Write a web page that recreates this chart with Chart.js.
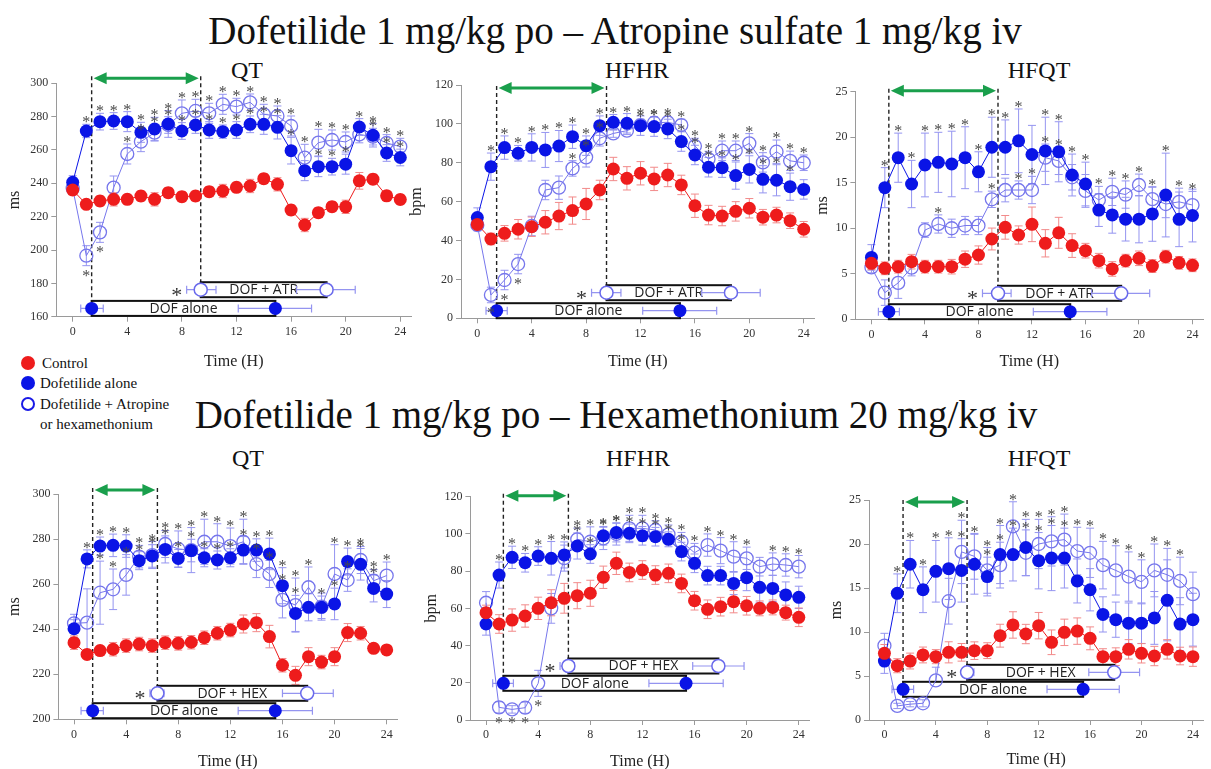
<!DOCTYPE html>
<html>
<head>
<meta charset="utf-8">
<script src="https://cdn.jsdelivr.net/npm/chart.js@4.4.1/dist/chart.umd.min.js"></script>
<style>
  body { margin: 0; width: 1211px; height: 769px; overflow: hidden; background: #fff; position: relative; font-family: "Liberation Serif", serif; color: #111; }
  canvas.panel { position: absolute; left: 0; top: 0; }
  .main-title { position: absolute; transform: translate(-50%, -50%); font-size: 39px; white-space: nowrap; }
  .panel-title { position: absolute; transform: translate(-50%, -50%); font-size: 24px; white-space: nowrap; }
  .legend { position: absolute; left: 0; top: 0; font-size: 15px; }
  .legend .item { position: absolute; white-space: nowrap; transform: translateY(-50%); }
  .legend .dot { position: absolute; width: 14px; height: 14px; border-radius: 50%; transform: translate(-50%, -50%); box-sizing: border-box; }
</style>
</head>
<body>

<div class="main-title" style="left:615px;top:30px;">Dofetilide 1 mg/kg po – Atropine sulfate 1 mg/kg iv</div>
<div class="main-title" style="left:616px;top:414px;">Dofetilide 1 mg/kg po – Hexamethonium 20 mg/kg iv</div>

<div class="panel-title" style="left:247px;top:70px;">QT</div>
<div class="panel-title" style="left:637px;top:70px;">HFHR</div>
<div class="panel-title" style="left:1039px;top:70px;">HFQT</div>
<div class="panel-title" style="left:248px;top:458px;">QT</div>
<div class="panel-title" style="left:638px;top:458px;">HFHR</div>
<div class="panel-title" style="left:1039px;top:458px;">HFQT</div>

<div class="legend">
  <div class="dot" style="left:28px;top:363px;background:#ee1c1c;"></div>
  <div class="item" style="left:42px;top:363px;">Control</div>
  <div class="dot" style="left:28px;top:383px;background:#0a14e6;"></div>
  <div class="item" style="left:40px;top:383px;">Dofetilide alone</div>
  <div class="dot" style="left:28px;top:404px;border:2px solid #1a1ae6;background:#fff;"></div>
  <div class="item" style="left:40px;top:404px;">Dofetilide + Atropine</div>
  <div class="item" style="left:40px;top:424px;">or hexamethonium</div>
</div>

<canvas class="panel" id="c1" width="1211" height="800"></canvas>
<canvas class="panel" id="c2" width="1211" height="800"></canvas>
<canvas class="panel" id="c3" width="1211" height="800"></canvas>
<canvas class="panel" id="c4" width="1211" height="800"></canvas>
<canvas class="panel" id="c5" width="1211" height="800"></canvas>
<canvas class="panel" id="c6" width="1211" height="800"></canvas>

<script>
// ---------- data ----------
const hours = [0,1,2,3,4,5,6,7,8,9,10,11,12,13,14,15,16,17,18,19,20,21,22,23,24];
const xTicks = [0,4,8,12,16,20,24];
const qtAtrTicks = [160,180,200,220,240,260,280,300];
const qtHexTicks = [200,220,240,260,280,300];
const hrTicks = [0,20,40,60,80,100,120];
const hfqtTicks = [0,5,10,15,20,25];

// atropine - QT
const atrQtControl = [236,227.4,229.4,230.4,230.4,232.4,230.4,234.4,232,232.4,235,235.4,237.6,238.4,242.8,239.4,224,215,222.4,226,225.9,241.5,242.5,232.5,230.3];
const atrQtControlErr = [3,2,3,4,3,3,4,3,3,3,3,4,3,4,3,4,3,4,3,3,4,5,3,3,3];
const atrQtDof = [240.6,271.4,277,277.4,277,270.6,272.6,275.6,271.4,275,272,271,272,275.4,275.4,273.6,259.6,247.6,250,250,251.5,273.8,268.8,258.2,255.5];
const atrQtDofErr = [4,4,5,5,6,6,7,8,5,5,5,4,5,5,6,7,8,6,6,5,6,5,7,5,5];
const atrQtCombo = [237,196.6,210.6,237.4,257.6,265,270.4,275,282,283.4,282,287.4,286,288.6,281.4,280.4,274.4,255.4,264.4,266,264.8,269.3,268,264.2,262];
const atrQtComboErr = [3,6,6,7,6,6,5,5,8,7,6,6,5,5,6,6,6,8,8,6,6,5,5,5,5];
const atrQtDofStars = [0,1,1,1,1,1,1,1,1,1,1,1,1,1,1,1,1,0,1,1,1,1,1,1,1];
const atrQtComboStars = [0,-1,-1,0,1,1,1,1,1,1,1,1,1,1,1,1,1,1,1,1,1,0,1,1,1];
const atrQtAloneOn = [1.39,0.59,2.24];
const atrQtAloneOff = [14.85,12.13,17.5];
const atrQtComboOn = [9.38,8.35,10.5];
const atrQtComboOff = [18.6,16.4,20.7];

// atropine - HFHR
const atrHrControl = [48.3,40.8,43.7,45.8,47.1,49.4,52.6,55.4,58.8,66,76.8,72,74.6,71.7,73.7,68.6,57.9,53.1,52.6,55,56.6,52,53.1,50.2,45.8];
const atrHrControlErr = [3,3,4,5,5,6,7,7,8,5,6,6,6,6,6,5,6,5,5,5,5,4,4,4,4];
const atrHrDof = [51.8,78,87.8,84.9,87.9,86.6,88.6,93.4,88.8,99.1,100.8,100.3,99.1,98.6,97.4,90.9,84,77.7,77.5,73.4,76.6,71.5,71,67.7,66.3];
const atrHrDofErr = [5,7,6,4,7,9,8,6,5,5,4,5,5,5,5,5,5,5,5,7,7,7,8,7,5];
const atrHrCombo = [48,12,19.7,27.9,47.5,66,67.2,77.1,82.8,92.6,95.1,96.5,99.4,100.6,100.8,99.4,88.6,81.9,86.2,86.2,90,80.2,85.7,81,80];
const atrHrComboErr = [3,4,5,5,5,5,6,4,5,4,2,2,3,3,3,3,4,4,5,5,5,5,6,5,4];
const atrHrDofStars = [0,1,1,1,1,1,1,1,1,1,1,1,1,1,1,1,1,1,1,1,1,1,1,1,0];
const atrHrComboStars = [0,-1,-1,-1,0,0,0,1,1,1,0,0,1,1,1,1,1,1,1,1,1,1,1,1,1];
const atrHrAloneOn = [1.42,0.64,2.2];
const atrHrAloneOff = [14.9,12.16,17.6];
const atrHrComboOn = [9.5,8.4,10.56];
const atrHrComboOff = [18.65,16.5,20.8];

// atropine - HFQT
const atrHfqtControl = [6.15,5.6,5.78,6.33,5.78,5.78,5.78,6.6,7.06,8.82,10.1,9.26,10.43,8.35,9.5,8.1,7.54,6.44,5.53,6.44,6.7,5.85,6.88,6.2,5.93];
const atrHfqtControlErr = [0.7,0.7,0.7,0.8,0.7,0.7,0.8,0.9,1,1.2,1.3,1,1.9,1.5,1.7,1.3,0.8,0.8,0.8,0.7,0.8,0.7,0.7,0.7,0.7];
const atrHfqtDof = [6.8,14.46,17.75,14.86,16.95,17.24,17.06,17.75,16.2,18.9,18.9,19.6,18.1,18.5,18.4,15.85,14.86,12,11.46,11,11,11.57,13.65,10.98,11.4];
const atrHfqtDofErr = [1.4,2.2,2.7,2.6,3.5,3.3,3.6,3.4,2.2,3.3,3,3.5,3.2,3.7,3.3,2.3,2.4,1.8,2,2.4,2.6,3,4.6,3,2.9];
const atrHfqtCombo = [5.7,2.93,4,5.67,9.8,10.47,10,10.3,10.3,13.18,14.2,14.2,14.2,17.75,17.4,15.6,14.1,13.1,14,13.7,14.75,13.2,12.66,12.9,12.55];
const atrHfqtComboErr = [0.6,1.4,1.7,0.9,0.8,1,1,1,1,0.9,1.3,1,1.5,1.5,1.5,1.4,1.8,1.5,1.5,1.5,1.2,1.3,1.5,1.5,1.5];
const atrHfqtDofStars = [0,1,1,1,1,1,1,1,1,1,1,1,0,1,1,1,1,0,0,0,0,0,1,0,0];
const atrHfqtComboStars = [0,0,0,0,0,1,0,0,0,1,0,1,1,1,1,0,0,1,1,1,1,1,0,1,1];
const atrHfqtAloneOn = [1.3,0.52,2.09];
const atrHfqtAloneOff = [14.86,12.1,17.6];
const atrHfqtComboOn = [9.46,8.3,10.44];
const atrHfqtComboOff = [18.67,16.46,20.8];

// hexamethonium - QT
const hexQtControl = [234,228.8,230.5,231.1,232.7,233.4,232.7,234,233.7,234.2,236.2,238.2,239.6,242.3,242.9,236.7,224,219.5,227.8,225.4,227.8,238.5,238.2,231.5,230.8];
const hexQtControlErr = [3,2,2,3,3,3,3,3,3,3,3,3,3,4,4,5,3,4,4,3,4,4,3,2,2];
const hexQtDof = [240.2,271.2,276.9,277.2,276.9,270.4,272.5,275.4,271.4,274.9,271.7,270.7,271.7,275.1,275.1,273.4,259.3,247,249.7,249.7,251.2,270,268.8,258.1,255.6];
const hexQtDofErr = [4,4,4,5,5,4,5,6,4,5,4,4,4,6,5,7,8,8,6,5,7,6,7,6,6];
const hexQtCombo = [242.6,242.9,256.2,257.7,264.1,272.2,272.9,277.8,275.6,275.1,278.8,278.8,276.9,278.8,268.9,264.5,253,250.7,258.6,250,264.5,261.8,270.7,261.5,263.8];
const hexQtComboErr = [4,15,14,9,9,5,6,6,8,10,10,8,8,10,6,6,8,12,9,6,13,5,6,5,6];
const hexQtDofStars = [0,1,1,1,1,1,1,1,1,1,1,1,1,1,1,1,1,1,0,1,1,1,1,1,0];
const hexQtComboStars = [0,0,1,1,1,1,1,1,1,1,1,1,1,1,1,1,1,1,1,0,1,1,1,1,1];
const hexQtAloneOn = [1.43,0.54,2.25];
const hexQtAloneOff = [15.45,12.6,18.3];
const hexQtComboOn = [6.4,5.83,6.9];
const hexQtComboOff = [17.9,16,19.9];

// hexamethonium - HFHR
const hexHrControl = [57.7,51.6,53.7,55.9,60,63,65.4,66.8,68.1,76.7,84.2,79.3,80.6,77.9,78.8,73.4,64.1,59.5,60.9,63.6,61.4,60,60.5,57.7,55.2];
const hexHrControlErr = [4,5,6,6,6,7,8,7,7,6,6,5,5,5,5,5,5,5,5,6,5,4,4,4,5];
const hexHrDof = [51.6,77.9,87.4,84.5,88.1,86.9,88.7,93.5,89.2,99,100.7,100.3,99,98.5,97.1,90.5,84.2,77.6,77.6,73.4,76.5,71.3,70.7,67.2,65.9];
const hexHrDofErr = [6,7,6,5,5,9,7,7,5,5,5,5,5,5,4,5,5,5,5,6,7,8,7,7,6];
const hexHrCombo = [63,6.8,5.7,6.6,19.7,60,87,97.1,95.8,97.6,100,103,103,102.1,99.8,95.8,89.9,94,91,87.8,86.9,82.4,83.8,83.3,82.4];
const hexHrComboErr = [6,3,2,3,7,8,7,6,8,6,6,7,7,5,5,5,5,6,7,8,6,5,6,6,6];
const hexHrDofStars = [0,1,1,1,1,1,1,1,1,1,1,1,1,1,1,1,0,0,0,0,0,0,0,0,0];
const hexHrComboStars = [0,-1,-1,-1,-1,0,0,1,1,1,1,1,1,1,1,1,1,1,1,1,1,0,1,1,1];
const hexHrAloneOn = [1.33,0.51,2.1];
const hexHrAloneOff = [15.35,12.5,18.2];
const hexHrComboOn = [6.32,5.68,6.78];
const hexHrComboOff = [17.83,15.86,19.8];

// hexamethonium - HFQT
const hexHfqtControl = [7.58,6.17,6.7,7.39,7.2,7.69,7.69,7.88,7.88,9.58,10.8,9.77,10.72,8.83,9.96,10.1,9.28,7.2,7.2,8.03,7.58,7.27,8.03,7.27,7.2];
const hexHfqtControlErr = [1,0.8,0.9,0.9,0.8,1.2,1,1,0.9,1.3,1.5,1.1,1.5,1.4,1.5,1.5,1.3,0.9,1,1.1,1.1,1.1,1.1,1,1.1];
const hexHfqtDof = [6.7,14.4,17.7,14.8,16.9,17.2,17,17.7,16.3,18.8,18.8,19.6,18.1,18.4,18.4,15.8,14.8,12,11.4,11,11,11.6,13.6,10.9,11.4];
const hexHfqtDofErr = [1.4,2.2,2.7,2.6,3.5,3.5,3.6,3.4,2.2,3.3,3,3.2,3.2,3.7,3.4,2.5,2.4,2,2,2.3,2.3,3,4.6,3,3];
const hexHfqtCombo = [8.45,1.6,1.8,1.9,4.5,13.5,19.1,18.6,17,17.6,22,19,20,20.3,20.5,19.2,19,17.6,17,16.3,15.7,17,16.5,15.8,14.3];
const hexHfqtComboErr = [1.4,0.3,0.3,0.4,1.5,2.6,3.6,2.6,2.6,2.6,2.8,2.6,2.8,2.8,2.9,2.7,2.8,2.7,2.8,2.8,2.5,3,3,2.7,2.5];
const hexHfqtDofStars = [0,1,1,1,1,1,1,1,1,1,1,1,1,1,1,0,0,0,0,0,0,0,0,0,0];
const hexHfqtComboStars = [0,0,0,0,0,0,1,0,1,1,1,1,1,1,1,1,1,1,1,1,1,1,1,1,0];
const hexHfqtAloneOn = [1.45,0.59,2.27];
const hexHfqtAloneOff = [15.46,12.65,18.27];
const hexHfqtComboOn = [6.43,6.02,6.96];
const hexHfqtComboOff = [17.88,15.9,19.85];

// ---------- layout (page pixels) ----------
const W = 1211, H = 800;
const serif = '"Liberation Serif", "Times New Roman", serif';
const RED = '#ee1c1c', BLUE = '#0a14e6', LAV = '#7676ec';
const RED_ERR = '#f28a8a', BLUE_ERR = '#9494f0';

const panels = [
  { id: 'c1', area: [56.3, 83.3, 411.2, 316.7], yLabelX: 15, xLabelY: 362, arrowDy: -5, rows: [8.3, 27],
    yTitle: 'ms', yMin: 160, yMax: 300, yTicks: qtAtrTicks, comboLabel: 'DOF + ATR',
    control: atrQtControl, controlErr: atrQtControlErr, dof: atrQtDof, dofErr: atrQtDofErr,
    combo: atrQtCombo, comboErr: atrQtComboErr, dofStars: atrQtDofStars, comboStars: atrQtComboStars,
    aloneOn: atrQtAloneOn, aloneOff: atrQtAloneOff, comboOn: atrQtComboOn, comboOff: atrQtComboOff },
  { id: 'c2', area: [461, 85, 814.6, 318.3], yLabelX: 417, xLabelY: 361.7, arrowDy: 3, rows: [7.6, 25.6],
    yTitle: 'bpm', yMin: 0, yMax: 120, yTicks: hrTicks, comboLabel: 'DOF + ATR',
    control: atrHrControl, controlErr: atrHrControlErr, dof: atrHrDof, dofErr: atrHrDofErr,
    combo: atrHrCombo, comboErr: atrHrComboErr, dofStars: atrHrDofStars, comboStars: atrHrComboStars,
    aloneOn: atrHrAloneOn, aloneOff: atrHrAloneOff, comboOn: atrHrComboOn, comboOff: atrHrComboOff },
  { id: 'c3', area: [855.4, 91.7, 1208.2, 319.3], yLabelX: 823, xLabelY: 361.7, arrowDy: -1, rows: [7.6, 26],
    yTitle: 'ms', yMin: 0, yMax: 25, yTicks: hfqtTicks, comboLabel: 'DOF + ATR',
    control: atrHfqtControl, controlErr: atrHfqtControlErr, dof: atrHfqtDof, dofErr: atrHfqtDofErr,
    combo: atrHfqtCombo, comboErr: atrHfqtComboErr, dofStars: atrHfqtDofStars, comboStars: atrHfqtComboStars,
    aloneOn: atrHfqtAloneOn, aloneOff: atrHfqtAloneOff, comboOn: atrHfqtComboOn, comboOff: atrHfqtComboOff },
  { id: 'c4', area: [58.4, 494, 397.1, 719.3], yLabelX: 15, xLabelY: 761.7, arrowDy: -4, rows: [8.6, 26],
    yTitle: 'ms', yMin: 200, yMax: 300, yTicks: qtHexTicks, comboLabel: 'DOF + HEX',
    control: hexQtControl, controlErr: hexQtControlErr, dof: hexQtDof, dofErr: hexQtDofErr,
    combo: hexQtCombo, comboErr: hexQtComboErr, dofStars: hexQtDofStars, comboStars: hexQtComboStars,
    aloneOn: hexQtAloneOn, aloneOff: hexQtAloneOff, comboOn: hexQtComboOn, comboOff: hexQtComboOff },
  { id: 'c5', area: [470.4, 496.7, 809.2, 720], yLabelX: 431.7, xLabelY: 761.7, arrowDy: -1, rows: [36.7, 54],
    yTitle: 'bpm', yMin: 0, yMax: 120, yTicks: hrTicks, comboLabel: 'DOF + HEX',
    control: hexHrControl, controlErr: hexHrControlErr, dof: hexHrDof, dofErr: hexHrDofErr,
    combo: hexHrCombo, comboErr: hexHrComboErr, dofStars: hexHrDofStars, comboStars: hexHrComboStars,
    aloneOn: hexHrAloneOn, aloneOff: hexHrAloneOff, comboOn: hexHrComboOn, comboOff: hexHrComboOff },
  { id: 'c6', area: [869, 500, 1208.6, 720], yLabelX: 837, xLabelY: 760, arrowDy: 2, rows: [30.7, 47.7],
    yTitle: 'ms', yMin: 0, yMax: 25, yTicks: hfqtTicks, comboLabel: 'DOF + HEX',
    control: hexHfqtControl, controlErr: hexHfqtControlErr, dof: hexHfqtDof, dofErr: hexHfqtDofErr,
    combo: hexHfqtCombo, comboErr: hexHfqtComboErr, dofStars: hexHfqtDofStars, comboStars: hexHfqtComboStars,
    aloneOn: hexHfqtAloneOn, aloneOff: hexHfqtAloneOff, comboOn: hexHfqtComboOn, comboOff: hexHfqtComboOff }
];

function pts(vals) {
  return hours.map((h, i) => ({ x: h, y: vals[i] }));
}

function circle(ctx, x, y, r, fill, stroke) {
  ctx.beginPath();
  ctx.arc(x, y, r, 0, Math.PI * 2);
  if (fill) { ctx.fillStyle = fill; ctx.fill(); }
  if (stroke) { ctx.strokeStyle = stroke; ctx.lineWidth = 1.5; ctx.stroke(); }
}

// error bars, dashed lines, onset/offset boxes, stars and the green arrow
function makeDeco(p) {
  return {
    id: 'deco',
    beforeDatasetsDraw(chart) {
      const { ctx, chartArea: a, scales } = chart;
      const X = v => scales.x.getPixelForValue(v);
      const Y = v => scales.y.getPixelForValue(v);
      ctx.save();

      // vertical error bars
      const series = [
        [p.combo, p.comboErr, BLUE_ERR],
        [p.dof, p.dofErr, BLUE_ERR],
        [p.control, p.controlErr, RED_ERR]
      ];
      series.forEach(([vals, err, col]) => {
        ctx.strokeStyle = col;
        ctx.lineWidth = 1;
        vals.forEach((v, i) => {
          const px = X(hours[i]), y1 = Y(v + err[i]), y2 = Y(v - err[i]);
          ctx.beginPath();
          ctx.moveTo(px, y1); ctx.lineTo(px, y2);
          ctx.moveTo(px - 4, y1); ctx.lineTo(px + 4, y1);
          ctx.moveTo(px - 4, y2); ctx.lineTo(px + 4, y2);
          ctx.stroke();
        });
      });

      const rowA = a.bottom - p.rows[0];
      const rowC = a.bottom - p.rows[1];
      const topY = a.top + p.arrowDy - 2;

      // dashed lines at the onsets
      ctx.setLineDash([4, 3]);
      ctx.strokeStyle = '#222';
      ctx.lineWidth = 1.4;
      [[p.aloneOn[0], rowA], [p.comboOn[0], rowC]].forEach(([t, ry]) => {
        ctx.beginPath();
        ctx.moveTo(X(t), topY);
        ctx.lineTo(X(t), ry - 7);
        ctx.stroke();
      });
      ctx.setLineDash([]);

      // boxes with onset / offset markers
      const rows = [
        [p.aloneOn, p.aloneOff, rowA, 'DOF alone', BLUE, null],
        [p.comboOn, p.comboOff, rowC, p.comboLabel, '#fff', '#6a6aec']
      ];
      rows.forEach(([on, off, ry, label, fill, stroke]) => {
        const x1 = X(on[0]), x2 = X(off[0]);
        ctx.fillStyle = '#fff';
        ctx.fillRect(x1, ry - 7.5, x2 - x1, 15);
        ctx.strokeStyle = '#111';
        ctx.lineWidth = 2;
        ctx.strokeRect(x1, ry - 7.5, x2 - x1, 15);
        ctx.fillStyle = '#222';
        ctx.font = '14px "Open Sans", "DejaVu Sans", sans-serif';
        ctx.textAlign = 'center';
        ctx.textBaseline = 'middle';
        ctx.fillText(label, (x1 + x2) / 2, ry + 0.5);
        [on, off].forEach(m => {
          const lo = X(m[1]), hi = X(m[2]);
          ctx.strokeStyle = BLUE_ERR;
          ctx.lineWidth = 1.2;
          ctx.beginPath();
          ctx.moveTo(lo, ry); ctx.lineTo(hi, ry);
          ctx.moveTo(lo, ry - 4); ctx.lineTo(lo, ry + 4);
          ctx.moveTo(hi, ry - 4); ctx.lineTo(hi, ry + 4);
          ctx.stroke();
          circle(ctx, X(m[0]), ry, 6.5, fill, stroke);
        });
      });

      // significance star left of the combination onset
      ctx.fillStyle = '#333';
      ctx.font = '22px ' + serif;
      ctx.textAlign = 'center';
      ctx.textBaseline = 'alphabetic';
      ctx.fillText('*', X(p.comboOn[1]) - 10, rowC + 12);
      ctx.restore();
    },
    afterDatasetsDraw(chart) {
      const { ctx, chartArea: a, scales } = chart;
      const X = v => scales.x.getPixelForValue(v);
      const Y = v => scales.y.getPixelForValue(v);
      ctx.save();

      // asterisks
      ctx.fillStyle = '#4a4a4a';
      ctx.font = '16px ' + serif;
      ctx.textAlign = 'center';
      ctx.textBaseline = 'alphabetic';
      [[p.dof, p.dofErr, p.dofStars], [p.combo, p.comboErr, p.comboStars]].forEach(([vals, err, stars]) => {
        stars.forEach((s, i) => {
          if (!s) return;
          const px = X(hours[i]);
          if (s > 0) ctx.fillText('*', px, Y(vals[i] + err[i]) + 3);
          else ctx.fillText('*', px, Y(vals[i] - err[i]) + 15);
        });
      });

      // green double arrow between the two onsets
      const ay = a.top + p.arrowDy;
      const x1 = X(p.aloneOn[0]) + 2, x2 = X(p.comboOn[0]) - 2;
      ctx.strokeStyle = '#1a9f4c';
      ctx.fillStyle = '#1a9f4c';
      ctx.lineWidth = 3;
      ctx.beginPath();
      ctx.moveTo(x1 + 10, ay); ctx.lineTo(x2 - 10, ay);
      ctx.stroke();
      ctx.beginPath();
      ctx.moveTo(x1, ay); ctx.lineTo(x1 + 13, ay - 6); ctx.lineTo(x1 + 13, ay + 6); ctx.closePath();
      ctx.moveTo(x2, ay); ctx.lineTo(x2 - 13, ay - 6); ctx.lineTo(x2 - 13, ay + 6); ctx.closePath();
      ctx.fill();
      ctx.restore();
    }
  };
}

panels.forEach(p => {
  const [l, t, r, b] = p.area;
  const yW = l - p.yLabelX + 9.6;
  const xH = p.xLabelY + 9.6 - b;
  const tickFont = { family: serif, size: 12 };
  const titleFont = { family: serif, size: 16 };

  new Chart(document.getElementById(p.id), {
    type: 'line',
    data: {
      datasets: [
        { label: 'Control', data: pts(p.control), borderColor: RED, backgroundColor: RED,
          borderWidth: 1, pointRadius: 6.5, pointBorderWidth: 0, pointBackgroundColor: RED },
        { label: 'Dofetilide alone', data: pts(p.dof), borderColor: BLUE, backgroundColor: BLUE,
          borderWidth: 1, pointRadius: 6.5, pointBorderWidth: 0, pointBackgroundColor: BLUE },
        { label: 'Dofetilide + Atropine or hexamethonium', data: pts(p.combo), borderColor: LAV,
          backgroundColor: 'rgba(0,0,0,0)', borderWidth: 1, pointRadius: 6.5, pointBorderWidth: 1.3,
          pointBorderColor: LAV, pointBackgroundColor: 'rgba(0,0,0,0)' }
      ]
    },
    options: {
      responsive: false,
      animation: false,
      events: [],
      layout: { padding: { left: l - yW, top: t, right: W - r, bottom: H - b - xH } },
      plugins: { legend: { display: false }, tooltip: { enabled: false } },
      scales: {
        x: {
          type: 'linear', min: -1.2, max: 24.8,
          afterBuildTicks: s => { s.ticks = xTicks.map(v => ({ value: v })); },
          afterFit: s => { s.height = xH; },
          grid: { drawOnChartArea: false, tickLength: 5, color: '#9a9a9a' },
          border: { color: '#9a9a9a' },
          ticks: { font: tickFont, color: '#333', maxRotation: 0, padding: 3 },
          title: { display: true, text: 'Time (H)', font: titleFont, color: '#222', padding: 0 }
        },
        y: {
          type: 'linear', min: p.yMin, max: p.yMax,
          afterBuildTicks: s => { s.ticks = p.yTicks.map(v => ({ value: v })); },
          afterFit: s => { s.width = yW; },
          grid: { drawOnChartArea: false, tickLength: 5, color: '#9a9a9a' },
          border: { color: '#9a9a9a' },
          ticks: { font: tickFont, color: '#333', padding: 3 },
          title: { display: true, text: p.yTitle, font: titleFont, color: '#222', padding: 0 }
        }
      }
    },
    plugins: [makeDeco(p)]
  });
});
</script>
</body>
</html>
